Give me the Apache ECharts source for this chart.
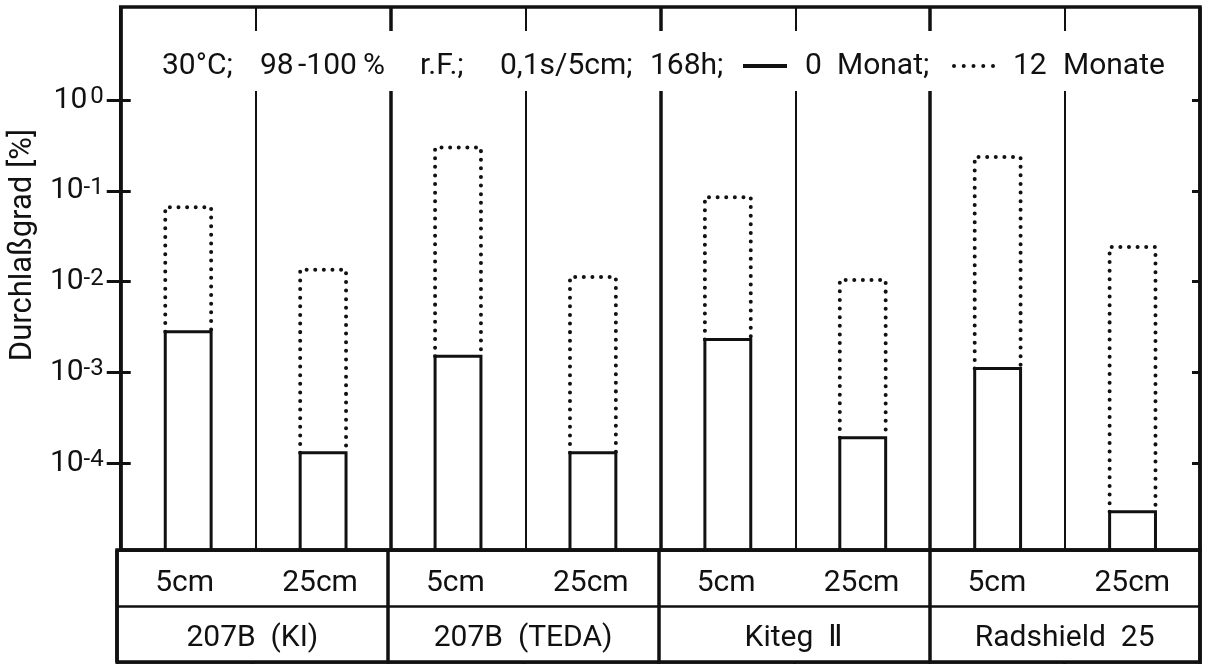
<!DOCTYPE html>
<html>
<head>
<meta charset="utf-8">
<script src="https://cdn.jsdelivr.net/npm/echarts@6/dist/echarts.min.js"></script>
<style>html,body{margin:0;padding:0;background:#fff}#c{width:1205px;height:664px}</style>
</head>
<body>
<div id="c"></div>
<script>
const sizes = ['5cm', '25cm', '5cm', '25cm', '5cm', '25cm', '5cm', '25cm'];
const groups = ['207B  (KI)', '207B  (TEDA)', 'Kiteg  Ⅱ', 'Radshield  25'];
const month0 = [2.8e-3, 1.3e-4, 1.5e-3, 1.3e-4, 2.3e-3, 1.9e-4, 1.1e-3, 2.9e-5];
const month12 = [0.066, 0.0135, 0.30, 0.0112, 0.085, 0.0104, 0.235, 0.024];
const yTicks = [1, 0.1, 0.01, 0.001, 0.0001];
const titleParts = ['30°C; ', '98 ', '-100 ', '% ', 'r.F.; ', '0,1s/5cm; ', '168h; '];
const legend0 = ['0 ', 'Monat; '];
const legend12 = ['12 ', 'Monate'];

const FONT = 'Roboto';
const INK = '#111';
const Y_MIN = 1.1e-5, Y_MAX = 10.6;

const chart = echarts.init(document.getElementById('c'), null, {renderer: 'canvas'});

function barRender(dotted) {
  return function (params, api) {
    const i = api.value(0);
    const cs = params.coordSys;
    const catW = api.size([1, 0])[0];
    const w = catW * 0.34;
    const cx = api.coord([i, 1])[0];
    const x0 = cx - w / 2, x1 = cx + w / 2;
    const base = cs.y + cs.height;
    if (dotted) {
      const yTop = api.coord([i, api.value(1)])[1];
      const yLow = api.coord([i, api.value(2)])[1];
      return {
        type: 'polyline',
        shape: {points: [[x0, yLow], [x0, yTop], [x1, yTop], [x1, yLow]]},
        style: {stroke: INK, fill: null, lineWidth: 4, lineDash: [0.01, 8.6], lineCap: 'round'}
      };
    }
    const yTop = api.coord([i, api.value(1)])[1];
    return {
      type: 'polyline',
      shape: {points: [[x0, base], [x0, yTop], [x1, yTop], [x1, base]]},
      style: {stroke: INK, fill: null, lineWidth: 3, lineJoin: 'miter'}
    };
  };
}

// title as rich text: each token gets its own box width
const TF = 30;
function tok(w) { return {width: w, fontSize: TF, fontFamily: FONT, color: INK, align: 'left', lineHeight: 30}; }
const rich = {
  p0: tok(98), p1: tok(38), p2: tok(65), p3: tok(57), p4: tok(80), p5: tok(150), p6: tok(93),
  line: {width: 44, height: 4, backgroundColor: INK},
  sp: {width: 18, height: 4},
  q0: tok(32), q1: tok(115),
  dot: {width: 4, height: 4, borderRadius: 2, backgroundColor: INK},
  gap: {width: 5.75, height: 4},
  r0: tok(50), r1: tok(110)
};
const titleText =
  titleParts.map(function (t, k) { return '{p' + k + '|' + t + '}'; }).join('') +
  '{line|}{sp|}' +
  '{q0|' + legend0[0] + '}{q1|' + legend0[1] + '}' +
  '{dot|}{gap|}{dot|}{gap|}{dot|}{gap|}{dot|}{gap|}{dot|}{sp|}' +
  '{r0|' + legend12[0] + '}{r1|' + legend12[1] + '}';

const logAxisBase = {
  type: 'log', logBase: 10, min: Y_MIN, max: Y_MAX, gridIndex: 0,
  splitLine: {show: false}, axisLine: {show: false}
};

const option = {
  backgroundColor: '#fff',
  animation: false,
  textStyle: {fontFamily: FONT, color: INK},
  graphic: [
    {type: 'rect', z: 5, silent: true,
      shape: {x: 150, y: 31, width: 1035, height: 60},
      style: {fill: '#fff'}}
  ],
  title: {
    text: titleText,
    left: 150, top: 31,
    padding: [20, 12, 10, 12],
    z: 8,
    textStyle: {fontFamily: FONT, fontSize: TF, fontWeight: 'normal', color: INK, lineHeight: 30, rich: rich}
  },
  grid: [
    {left: 117, right: 5, top: 7, bottom: 114, show: true, borderColor: INK, borderWidth: 3.5, backgroundColor: 'transparent'},
    {left: 117, right: 5, top: 550, height: 112, show: true, borderColor: INK, borderWidth: 3.5, backgroundColor: 'transparent'}
  ],
  xAxis: [
    {type: 'category', gridIndex: 0, data: sizes, boundaryGap: true,
      axisLine: {show: false}, axisTick: {show: false}, axisLabel: {show: false},
      splitLine: {show: true, interval: 0, lineStyle: {color: INK, width: 2}}},
    {type: 'category', gridIndex: 0, data: groups, boundaryGap: true,
      axisLine: {show: false}, axisTick: {show: false}, axisLabel: {show: false},
      splitLine: {show: true, interval: 0, lineStyle: {color: INK, width: 3.5}}},
    {type: 'category', gridIndex: 1, data: sizes, position: 'top', boundaryGap: true,
      axisLine: {show: false},
      axisTick: {show: true, inside: true, length: 57, interval: 0, lineStyle: {color: INK, width: 2.5}},
      axisLabel: {show: true, inside: true, interval: 0, margin: 18, fontSize: 30, fontFamily: FONT, color: INK},
      splitLine: {show: false}},
    {type: 'category', gridIndex: 1, data: groups, position: 'bottom', boundaryGap: true,
      axisLine: {show: false},
      axisTick: {show: true, inside: true, length: 112, interval: 0, lineStyle: {color: INK, width: 3.5}},
      axisLabel: {show: true, inside: true, interval: 0, margin: 9, fontSize: 30, fontFamily: FONT, color: INK},
      splitLine: {show: false}}
  ],
  yAxis: [
    Object.assign({}, logAxisBase, {
      position: 'left',
      name: 'Durchlaßgrad [%]', nameLocation: 'middle', nameRotate: 90, nameGap: 68,
      nameTextStyle: {fontSize: 31, fontFamily: FONT, color: INK, padding: [0, 0, 0, 67]},
      axisTick: {show: true, inside: false, length: 14, customValues: yTicks, lineStyle: {color: INK, width: 3}},
      axisLabel: {show: true, margin: 17, customValues: yTicks, fontFamily: FONT, color: INK,
        formatter: function (v) {
          const e = Math.round(Math.log10(v));
          return e === 0 ? '{b|10} {s|0}' : '{b|10}{s|-' + (-e) + '}';
        },
        rich: {
          b: {fontSize: 30, lineHeight: 30, verticalAlign: 'bottom', fontFamily: FONT, color: INK},
          s: {fontSize: 24, lineHeight: 22, verticalAlign: 'top', fontFamily: FONT, color: INK}
        }
      }
    }),
    Object.assign({}, logAxisBase, {
      position: 'left',
      axisTick: {show: true, inside: true, length: 10, customValues: yTicks, lineStyle: {color: INK, width: 3}},
      axisLabel: {show: false}
    }),
    Object.assign({}, logAxisBase, {
      position: 'right',
      axisTick: {show: true, inside: true, length: 8, customValues: yTicks, lineStyle: {color: INK, width: 3}},
      axisLabel: {show: false}
    }),
    {type: 'value', gridIndex: 1, min: 0, max: 2, interval: 1,
      axisLine: {show: false}, axisTick: {show: false}, axisLabel: {show: false},
      splitLine: {show: true, lineStyle: {color: INK, width: 2.5}}}
  ],
  series: [
    {name: '12 Monate', type: 'custom', xAxisIndex: 0, yAxisIndex: 0, z: 3,
      renderItem: barRender(true),
      encode: {x: 0, y: [1, 2]},
      data: month12.map(function (v, i) { return [i, v, month0[i]]; })},
    {name: '0 Monat', type: 'custom', xAxisIndex: 0, yAxisIndex: 0, z: 4,
      renderItem: barRender(false),
      encode: {x: 0, y: 1},
      data: month0.map(function (v, i) { return [i, v]; })}
  ]
};
chart.setOption(option);
</script>
</body>
</html>
